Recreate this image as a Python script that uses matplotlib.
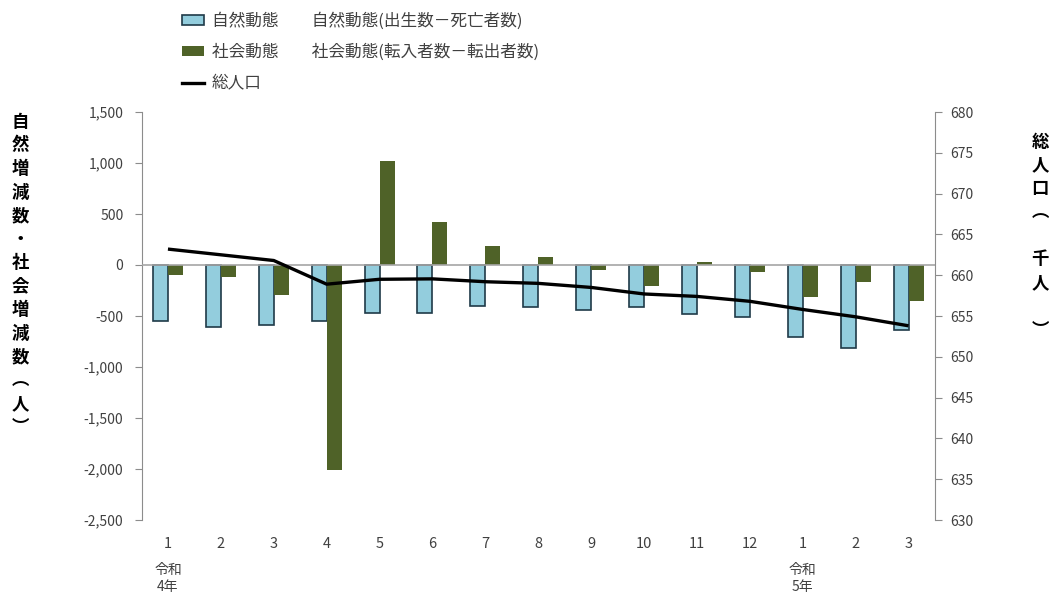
import matplotlib
matplotlib.use('Agg')
import numpy as np
import matplotlib.pyplot as plt
from matplotlib.patches import Patch
from matplotlib.lines import Line2D

plt.rcParams['font.family'] = ['Noto Sans CJK JP', 'DejaVu Sans']

# データ
meses = ['1', '2', '3', '4', '5', '6', '7', '8', '9', '10', '11', '12', '1', '2', '3']
natural = [-550, -605, -590, -550, -470, -470, -400, -412, -438, -415, -480, -513, -703, -817, -634]
social = [-98, -118, -291, -2010, 1020, 418, 183, 80, -45, -203, 30, -66, -317, -170, -356]
poblacion = [663.2, 662.5, 661.8, 658.9, 659.5, 659.55, 659.2, 659.0, 658.5, 657.7, 657.4, 656.8, 655.8, 654.9, 653.8]
anios = [(0, '令和\n4年'), (12, '令和\n5年')]

label_izq = '自然増減数・社会増減数︵人︶'
label_der = ['総', '人', '口', '︵', '', '千', '人', '', '︶']

W, H = 1051, 598
fig = plt.figure(figsize=(W / 100, H / 100), dpi=100)
ax = fig.add_axes([141.5 / W, 1 - 520 / H, (935 - 141.5) / W, (520 - 112) / H])
ax2 = ax.twinx()

x = np.arange(len(meses))
ancho = 0.283
gris = '#8c8c8c'
texto = '#404040'

ax.bar(x - ancho / 2, natural, ancho, color='#93CDDD', edgecolor='#1f3a48', linewidth=1.2, zorder=2)
ax.bar(x + ancho / 2, social, ancho, color='#4F6228', edgecolor='none', zorder=2)
ax.axhline(0, color='#a6a6a6', linewidth=1.2, zorder=3)

ax2.plot(x, poblacion, color='black', linewidth=2.4, solid_capstyle='butt')

# Ejes
ax.set_xlim(-0.5, len(meses) - 0.5)
ax.set_ylim(-2500, 1500)
ax.set_yticks(np.arange(-2500, 1501, 500))
ax.yaxis.set_major_formatter(matplotlib.ticker.FuncFormatter(lambda v, p: f'{int(v):,}'))
ax2.set_ylim(630, 680)
ax2.set_yticks(np.arange(630, 681, 5))

ax.set_xticks(x)
ax.set_xticklabels(meses)
ax.tick_params(axis='x', length=0, pad=12, labelsize=10.5, labelcolor=texto)
ax.tick_params(axis='y', direction='out', length=5, color=gris, labelsize=10, labelcolor=texto, pad=8)
ax2.tick_params(axis='y', direction='out', length=5, color=gris, labelsize=10, labelcolor=texto, pad=6)

for a in (ax, ax2):
    for lado in ['top', 'bottom']:
        a.spines[lado].set_visible(False)
ax.spines['left'].set_color(gris)
ax.spines['right'].set_visible(False)
ax2.spines['left'].set_visible(False)
ax2.spines['right'].set_color(gris)

# Años
for pos, txt in anios:
    ax.text(pos, -0.105, txt, transform=ax.get_xaxis_transform(), ha='center', va='top',
            fontsize=10, color=texto, linespacing=1.3)

# Etiquetas verticales
for i, ch in enumerate(label_izq):
    fig.text(20 / W, 1 - (122 + i * 23.5) / H, ch, ha='center', va='center',
             fontsize=12.5, fontweight='bold', color='black')
for i, ch in enumerate(label_der):
    if ch:
        fig.text(1040 / W, 1 - (142 + i * 23.5) / H, ch, ha='center', va='center',
                 fontsize=12.5, fontweight='bold', color='black')

# Leyenda
handles = [Patch(facecolor='#93CDDD', edgecolor='#1f3a48', linewidth=1.2),
           Patch(facecolor='#4F6228', edgecolor='none'),
           Line2D([], [], color='black', linewidth=2.4)]
labels = ['自然動態　　自然動態(出生数－死亡者数)',
          '社会動態　　社会動態(転入者数－転出者数)',
          '総人口']
fig.legend(handles, labels, loc='upper left', bbox_to_anchor=(182 / W, 1 - 12 / H),
           frameon=False, fontsize=12, handlelength=1.32, handleheight=0.55,
           handletextpad=0.45, labelspacing=0.85, borderpad=0, borderaxespad=0,
           labelcolor=texto)

fig.savefig('out.png', dpi=100)
